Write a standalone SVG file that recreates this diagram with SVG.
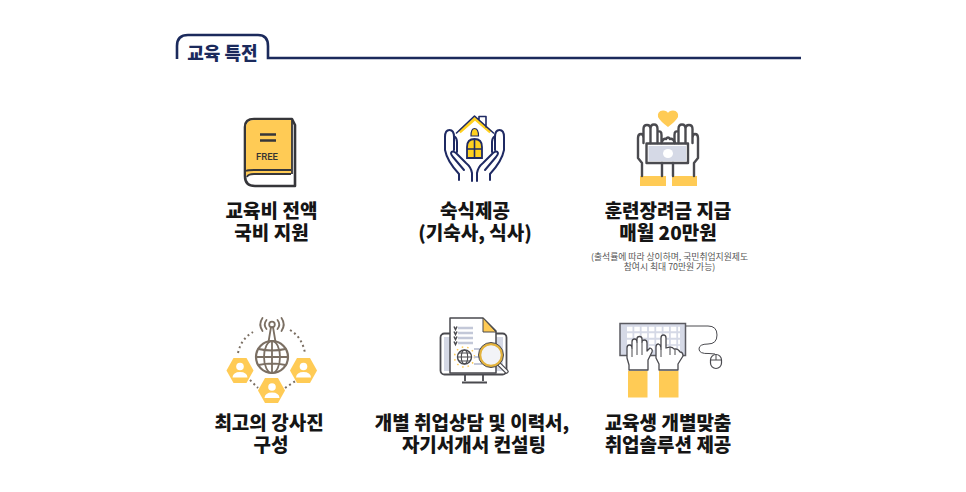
<svg xmlns="http://www.w3.org/2000/svg" width="966" height="492" viewBox="0 0 966 492">
<style>
.t{font-family:"Noto Sans CJK KR","Noto Sans",sans-serif;font-weight:900;font-size:19px;fill:#151515;text-anchor:middle}
.s{font-family:"Noto Sans CJK KR","Noto Sans",sans-serif;font-size:8.8px;fill:#555;text-anchor:middle}
.n{fill:none;stroke:#1f2a63;stroke-width:2;stroke-linejoin:round;stroke-linecap:round}
.g{fill:none;stroke:#4a4a4f;stroke-width:2.4;stroke-linejoin:round;stroke-linecap:round}
.b{fill:none;stroke:#7b6f63;stroke-width:1.800;stroke-linejoin:round;stroke-linecap:round}
.y{fill:#ffcb55}
.l{fill:#d5d9e6}
.w{fill:#fff}
</style>
<rect width="966" height="492" fill="#fff"/>
<g id="header">
<path d="M177 59V46Q177 35 188 35H258Q268 35 268 46V58H801" fill="none" stroke="#1b2a5c" stroke-width="2.600"/>
<text x="222.500" y="60" style="font-family:'Noto Sans CJK KR',sans-serif;font-weight:900;font-size:18px;fill:#1b2a5c;text-anchor:middle">교육 특전</text>
</g>
<g id="node-book">
<path d="M245 127Q245 119 254 119H292L295 125V186H255Q245 186 245 176Z" fill="#fff" stroke="#36363a" stroke-width="2.600" stroke-linejoin="round"/>
<path d="M246 176V128Q246 120 254 120H292V174H254Q248 174 246 176Z" class="y"/>
<path d="M246 171Q248 170 254 170H291M247 177Q248 174 254 174H291M292 119V174" fill="none" stroke="#36363a" stroke-width="1.800"/>
<path d="M260 134.500H276M260 140.500H276" stroke="#36363a" stroke-width="2.400" fill="none"/>
<text x="267" y="160" style="font-family:'Roboto',sans-serif;font-weight:500;font-size:9.500px;fill:#333;text-anchor:middle">FREE</text>
<text class="t" x="271.500" y="218">교육비 전액<tspan x="271.500" dy="22">국비 지원</tspan></text>
</g>
<g id="node-house">
<path d="M461 131L475 118L489 131V160L482 170H468L461 160Z" class="w"/>
<path d="M459.500 132L475 118.500L490.500 132" fill="none" stroke="#ffd11f" stroke-width="3.400" stroke-linejoin="round"/>
<path d="M456.500 133L474.500 116L493.500 133M479 120V116.500H486V127" class="n" stroke-width="1.600" style="stroke-width:1.600"/>
<path d="M471 136Q471 128.500 474.500 128.500Q478.500 128.500 478.500 136Z" fill="#ffd11f" stroke="#1f2a63" stroke-width="1.200"/>
<path d="M467 158V147Q467 139 474.500 139Q482 139 482 147V158Z" fill="#ffd11f" stroke="#1f2a63" stroke-width="1.800"/>
<path d="M474.500 139V158M467 149H482" stroke="#1f2a63" stroke-width="1.600"/>
<g class="n">
<path d="M472 181V173Q471 167 466 163L456 153Q452 150 451 153Q451 155 453 157L464 170M459 180V174Q447 161 445 150V137Q445 130 449.500 130Q454 130 454 137V150M454 136Q457 138 457 142V152"/>
<path d="M477 181V173Q478 167 483 163L493 153Q497 150 498 153Q498 155 496 157L485 170M490 180V174Q502 161 504 150V137Q504 130 499.500 130Q495 130 495 137V150M495 136Q492 138 492 142V152"/>
</g>
<text class="t" x="475" y="218">숙식제공<tspan x="475" dy="22">(기숙사, 식사)</tspan></text>
</g>
<g id="node-money">
<path d="M668 127Q660 121 658 117Q657 111 663 110.500Q667 110.500 668 113Q669 110.500 673 110.500Q679 111 678 117Q676 121 668 127Z" class="y"/>
<rect x="640" y="176" width="26" height="10" class="y"/>
<rect x="672" y="176" width="25" height="10" class="y"/>
<g class="g">
<path d="M642 176V163L638 158V138Q638 134 641 134Q643.500 134 643.500 138M643.500 143V129Q643.500 125 647 125Q650.500 125 650.500 129V143M650.500 129Q650.500 124.500 654 124.500Q657.500 124.500 657.500 129V143M657.500 132Q661.500 130 661.500 135V143M661.500 143Q663 138 666 139Q668 136 670 139Q673 138 675 143M662 163V176"/>
<path d="M694 176V163L698 158V138Q698 134 695 134Q692.500 134 692.500 138M692.500 143V129Q692.500 125 689 125Q685.500 125 685.500 129V143M685.500 129Q685.500 124.500 682 124.500Q678.500 124.500 678.500 129V143M678.500 132Q674.500 130 674.500 135V143M673 163V176"/>
</g>
<rect x="646.500" y="143.500" width="41.500" height="19.500" fill="#fff" class="g"/>
<rect x="648.500" y="146" width="37.500" height="15" class="l"/>
<ellipse cx="668" cy="153.500" rx="5" ry="4.600" fill="#fff"/>
<text class="t" x="668" y="218">훈련장려금 지급<tspan x="668" dy="22">매월 20만원</tspan></text>
<text class="s" x="669.500" y="260">(출석률에 따라 상이하며, 국민취업지원제도<tspan x="669.500" dy="10">참여시 최대 70만원 가능)</tspan></text>
</g>
<g id="node-network">
<path d="M238 353Q241 339 253 332M290 330Q302 337 305 353M250 380L258 388M285 388L297 380" fill="none" stroke="#7b6f63" stroke-width="2" stroke-dasharray="2 3"/>
<path class="y" d="M226.500 370.500L233.500 358H246.500L253.500 370.500L246.500 383H233.500Z"/>
<path class="y" d="M258 390.500L265 378H278L285 390.500L278 403H265Z"/>
<path class="y" d="M290 370.500L297 358H310L317 370.500L310 383H297Z"/>
<g class="w">
<circle cx="240" cy="366.500" r="3.800"/><path d="M232.500 377.500Q233 372 240 372Q247 372 247.500 377.500Z"/>
<circle cx="272" cy="387" r="3.800"/><path d="M264.500 398Q265 392.500 272 392.500Q279 392.500 279.500 398Z"/>
<circle cx="303.500" cy="366.500" r="3.800"/><path d="M296 377.500Q296.500 372 303.500 372Q310.500 372 311 377.500Z"/>
</g>
<g class="b">
<circle cx="272" cy="357" r="16" stroke-width="2.200" style="stroke-width:2.200"/>
<ellipse cx="272" cy="357" rx="8" ry="16"/>
<path d="M272 341V373M256 357H288M258.500 349Q272 352 285.500 349M258.500 365Q272 362 285.500 365"/>
<path d="M268.500 342L271 327M275.500 342L273 327"/>
<circle cx="272" cy="324.500" r="2.800"/>
<path d="M266.500 329Q263 324.500 266.500 320M262.500 331Q258 324.500 262.500 318M277.500 329Q281 324.500 277.500 320M281.500 331Q286 324.500 281.500 318"/>
</g>
<text class="t" x="269" y="430">최고의 강사진<tspan x="271" dy="22">구성</tspan></text>
</g>
<g id="node-resume">
<rect x="440.500" y="333.500" width="66" height="41" rx="4" fill="#fff" stroke="#4a4a4f" stroke-width="1.800"/>
<rect x="444" y="337" width="59" height="34" class="l"/>
<path d="M465 375V381M483 375V381M462 382.500H487" stroke="#4a4a4f" stroke-width="1.800" fill="none"/>
<path d="M450 318H483L496 331V373H450Z" fill="#fff" stroke="#4a4a4f" stroke-width="1.500" stroke-linejoin="round"/>
<path d="M483 318L496 332H483Z" class="y" stroke="#4a4a4f" stroke-width="1"/>
<path d="M458 328H473M458 333H473M458 338H473M458 343H473" stroke="#c3c8d8" stroke-width="2.400"/>
<path d="M454 326.500L455.500 329.500L457 326.500M454 331.500L455.500 334.500L457 331.500M454 336.500L455.500 339.500L457 336.500M454 341.500L455.500 344.500L457 341.500" stroke="#4a4a4f" stroke-width="1.500" fill="none"/>
<circle cx="464.500" cy="357" r="10" fill="none" stroke="#ffcb55" stroke-width="1.500" stroke-dasharray="1.500 4"/>
<g fill="none" stroke="#4a4a4f" stroke-width="1.100">
<circle cx="464.500" cy="357" r="7" stroke-width="1.400"/>
<ellipse cx="464.500" cy="357" rx="3.200" ry="7"/>
<path d="M457.500 357H471.500M459 353H470M459 361H470"/>
</g>
<path d="M474 349H481M474 357H481M474 364H482" stroke="#c3c8d8" stroke-width="2"/>
<path d="M499 364L506.500 371.500" stroke="#4a4a4f" stroke-width="4.500" stroke-linecap="round"/>
<path d="M499.500 364.500L506.500 371.500" stroke="#fff" stroke-width="2" stroke-linecap="round"/>
<circle cx="491" cy="355" r="11" fill="#f2f3f7" stroke="#e3b23c" stroke-width="2.500"/>
<circle cx="491" cy="355" r="12.500" fill="none" stroke="#4a4a4f" stroke-width="1"/>
<text class="t" x="472" y="430">개별 취업상담 및 이력서,<tspan x="474" dy="22">자기서개서 컨설팅</tspan></text>
</g>
<g id="node-keyboard">
<rect x="620" y="323.500" width="65.500" height="32" fill="#d5d9e6" stroke="#5a5a60" stroke-width="1.500"/>
<path d="M627 329H680M627 335.500H680M627 342H680M627 348H680" stroke="#fff" stroke-width="4.400" stroke-dasharray="5.500 1.800" fill="none"/>
<path d="M686 326H708Q717 326 717 335Q717 344 708 344Q699 344 699 349Q699 354 709 353.500L715 354" fill="none" stroke="#4a4a4f" stroke-width="1"/>
<rect x="710.500" y="354.500" width="11" height="14" rx="5.500" fill="#fff" stroke="#4a4a4f" stroke-width="1.200"/>
<path d="M710.500 360H721.500M716 354.500V360" stroke="#4a4a4f" stroke-width="1"/>
<rect x="628" y="371" width="19.500" height="26.500" class="y"/>
<rect x="659" y="371" width="19.500" height="26.500" class="y"/>
<path d="M629 370V365L627 358V348Q627 345 629.500 345Q632 345 632 348V342Q632 339 634.500 339Q637 339 637 342V339Q637 336.500 639.500 336.500Q642 336.500 642 339V342Q642 340 644.500 340Q647 340 647 343V351L650 348Q653 349 652 352L648 360V370Z" fill="#fff" stroke="#4a4a4f" stroke-width="1.300" stroke-linejoin="round"/>
<path d="M632 348V357M637 342V355M642 342V355" stroke="#4a4a4f" stroke-width="1"/>
<path d="M659 370V364L656 358V347Q656 344 658.500 344Q661 345 661 349V338Q661 335 663.500 335Q666 335 666 338V348Q672 346 674 349Q678 348 680 352Q683 352 683 356L678 364V370Z" fill="#fff" stroke="#4a4a4f" stroke-width="1.300" stroke-linejoin="round"/>
<path d="M661 349V357M670 347.500V355M675 349V355" stroke="#4a4a4f" stroke-width="1"/>
<text class="t" x="668" y="430">교육생 개별맞춤<tspan x="668" dy="22">취업솔루션 제공</tspan></text>
</g>
<g id="connectors"></g>
</svg>
